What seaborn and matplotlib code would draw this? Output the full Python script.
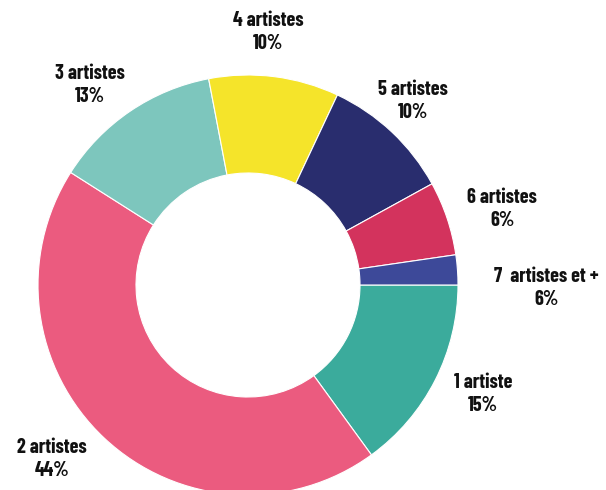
import matplotlib
matplotlib.use("Agg")
import matplotlib.pyplot as plt
import seaborn as sns

categories = ["1 artiste", "2 artistes", "3 artistes", "4 artistes",
              "5 artistes", "6 artistes", "7  artistes et +"]
values = [15, 44, 13, 10, 10, 5.7, 2.3]
pct_labels = ["15%", "44%", "13%", "10%", "10%", "6%", "6%"]
colors = ["#3bab9c", "#eb5b7f", "#7dc6bd", "#f5e42a", "#292d6e", "#d3335d", "#3d4999"]

sns.set_theme(style="white")
plt.rcParams['font.family'] = ['Barlow Condensed', 'DejaVu Sans']

W, H = 606, 490
R = 210.0
cx, cy = 248, 285
fig = plt.figure(figsize=(W / 100, H / 100), dpi=100)
ax = fig.add_axes([0, 0, 1, 1])

ax.pie(values, colors=colors, startangle=0, counterclock=False,
       radius=1.0, wedgeprops=dict(width=1 - 112 / R, edgecolor="white", linewidth=0.8))

ax.set_xlim(-cx / R, (W - cx) / R)
ax.set_ylim(-(H - cy) / R, cy / R)
ax.set_aspect("equal")
ax.axis("off")

# label positions (pixel centres of two-line blocks)
label_px = [(483, 394), (52, 459), (90, 85), (268, 32), (413, 101), (502, 209), (546, 288)]

def to_data(px, py):
    return (px - cx) / R, (cy - py) / R

for name, pct, (px, py) in zip(categories, pct_labels, label_px):
    x, y = to_data(px, py)
    ax.text(x, y, f"{name}\n{pct}", ha="center", va="center", fontsize=14.5,
            fontweight="bold", color="#111111", linespacing=1.3)

fig.savefig("out.png", dpi=100)
